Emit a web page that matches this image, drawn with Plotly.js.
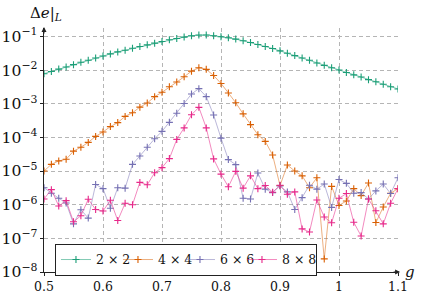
<!DOCTYPE html>
<html>
<head>
<meta charset="utf-8">
<script src="https://cdn.plot.ly/plotly-3.0.1.min.js"></script>
<style>html,body{margin:0;padding:0;background:#fff}#chart{width:443px;height:296px}</style>
</head>
<body>
<div id="chart"></div>
<script>
const g = [0.5000,0.5125,0.5250,0.5375,0.5500,0.5625,0.5750,0.5875,0.6000,0.6125,0.6250,0.6375,0.6500,0.6625,0.6750,0.6875,0.7000,0.7125,0.7250,0.7375,0.7500,0.7625,0.7750,0.7875,0.8000,0.8125,0.8250,0.8375,0.8500,0.8625,0.8750,0.8875,0.9000,0.9125,0.9250,0.9375,0.9500,0.9625,0.9750,0.9875,1.0000,1.0125,1.0250,1.0375,1.0500,1.0625,1.0750,1.0875,1.1000];

const err2x2 = [7.8e-3,9.1e-3,1.07e-2,1.23e-2,1.45e-2,1.70e-2,1.95e-2,2.29e-2,2.63e-2,3.02e-2,3.47e-2,3.89e-2,4.47e-2,5.01e-2,5.62e-2,6.31e-2,7.08e-2,7.94e-2,8.71e-2,9.55e-2,0.105,0.110,0.110,0.105,0.0977,0.0912,0.0832,0.0741,0.0661,0.0575,0.0501,0.0437,0.0372,0.0316,0.0269,0.0229,0.0195,0.0162,0.0138,0.0117,0.0100,8.5e-3,7.2e-3,6.2e-3,5.2e-3,4.5e-3,3.8e-3,3.2e-3,2.75e-3];

const err4x4 = [1.0e-5,1.58e-5,2.0e-5,2.24e-5,3.9e-5,5.1e-5,7.1e-5,1.07e-4,1.45e-4,2.09e-4,2.75e-4,4.2e-4,5.4e-4,7.9e-4,1.05e-3,1.62e-3,2.19e-3,3.2e-3,4.4e-3,6.3e-3,9.3e-3,1.17e-2,1.05e-2,6.9e-3,4.0e-3,2.09e-3,1.07e-3,5.0e-4,2.4e-4,1.20e-4,7.6e-5,3.0e-5,3.7e-6,1.51e-5,1.0e-5,7.2e-6,3.2e-6,6.3e-6,2.45e-8,3.5e-6,9.5e-7,1.29e-6,3.0e-6,1.86e-6,4.4e-6,2.95e-7,8.5e-7,2.19e-6,3.0e-6];

const err6x6 = [3.2e-6,2.19e-6,1.55e-6,1.12e-6,2.7e-7,7.1e-7,4.0e-7,4.0e-6,3.0e-6,7.8e-7,3.2e-6,3.1e-6,1.58e-5,2.8e-5,5.1e-5,9.1e-5,1.51e-4,2.8e-4,5.2e-4,1.02e-3,1.95e-3,2.8e-3,1.62e-3,4.6e-4,9.5e-5,2.19e-5,1.55e-5,1.55e-6,1.48e-6,8.7e-6,2.9e-6,2.29e-6,3.6e-6,2.4e-6,7.2e-7,1.62e-6,3.8e-6,2.9e-6,4.1e-6,8.3e-7,5.6e-6,4.3e-6,2.19e-6,2.29e-6,1.48e-6,2.57e-6,4.1e-6,2.14e-6,6.3e-6];

const err8x8 = [1.48e-6,2.8e-6,9.1e-7,1.32e-6,3.1e-7,4.7e-7,1.45e-6,7.2e-7,6.5e-7,1.35e-6,3.4e-7,1.10e-6,1.0e-6,4.6e-6,3.9e-6,8.9e-6,1.26e-5,2.34e-5,8.7e-5,1.91e-4,4.7e-4,7.8e-4,1.91e-4,2.29e-5,8.1e-6,3.4e-6,9.8e-6,3.1e-6,7.2e-6,3.0e-6,3.7e-6,2.34e-6,3.8e-6,2.04e-6,2.4e-6,1.91e-7,1.55e-7,1.38e-6,4.3e-7,2.9e-7,1.55e-6,2.14e-6,3.0e-7,1.17e-7,1.48e-6,6.6e-7,2.7e-7,1.10e-6,3.0e-6];

const seriesNames = ['2 × 2','4 × 4','6 × 6','8 × 8'];
const seriesData = [err2x2, err4x4, err6x6, err8x8];
const markerColors = ['#1b9e77','#d95f02','#7570b3','#e7298a'];
const lineColors = ['rgba(27,158,119,0.55)','rgba(217,95,2,0.5)','rgba(117,112,179,0.5)','rgba(231,41,138,0.55)'];
const xTickVals = [0.5,0.6,0.7,0.8,0.9,1.0,1.1];

const serif = 'DejaVu Serif';

const traces = seriesData.map((ys, k) => ({
  x: g, y: ys, name: seriesNames[k], type: 'scatter', mode: 'lines+markers',
  line: {color: lineColors[k], width: 1},
  marker: {symbol: 'cross-thin', size: 5, color: markerColors[k], line: {color: markerColors[k], width: 1.1}},
  legendwidth: k === 3 ? 29 : 17
}));

const axisCommon = {
  showgrid: true, gridcolor: '#b5b5b5', gridwidth: 1, griddash: '4px,3px',
  showline: true, linecolor: '#222', linewidth: 1,
  ticks: 'outside', ticklen: 3, tickcolor: '#222', tickwidth: 1,
  zeroline: false,
  tickfont: {family: serif, size: 12.5, color: '#111'}
};

const layout = {
  width: 443, height: 296,
  margin: {l: 44, r: 45, t: 28, b: 24},
  paper_bgcolor: '#fff', plot_bgcolor: '#fff',
  font: {family: serif, color: '#111'},
  showlegend: true,
  xaxis: Object.assign({}, axisCommon, {range: [0.5, 1.1], tickvals: xTickVals, ticktext: xTickVals.map(v => String(v))}),
  yaxis: Object.assign({}, axisCommon, {type: 'log', range: [-8, -0.75], dtick: 1, exponentformat: 'power'}),
  legend: {
    orientation: 'h', x: 0.031, y: -0.016, xanchor: 'left', yanchor: 'bottom',
    bgcolor: '#fff', bordercolor: '#222', borderwidth: 1,
    font: {family: serif, size: 12.5, color: '#111'},
    itemwidth: 30, tracegroupgap: 0
  },
  annotations: [
    {xref: 'paper', yref: 'paper', x: 1.006, y: 0, ax: -8, ay: 0, text: '', showarrow: true, arrowhead: 2, arrowsize: 1, arrowwidth: 1, arrowcolor: '#222'},
    {xref: 'paper', yref: 'paper', x: 0, y: 1.004, ax: 0, ay: 8, text: '', showarrow: true, arrowhead: 2, arrowsize: 1, arrowwidth: 1, arrowcolor: '#222'},
    {xref: 'paper', yref: 'paper', x: 1, y: 0, xshift: 5, xanchor: 'left', yanchor: 'middle', text: '<i>g</i>', showarrow: false, font: {family: serif, size: 15, color: '#111'}},
    {xref: 'paper', yref: 'paper', x: 0, y: 1, xshift: -16, yshift: 3, xanchor: 'left', yanchor: 'bottom', text: 'Δ<i>e</i>|<sub><i>L</i></sub>', showarrow: false, font: {family: serif, size: 15, color: '#111'}}
  ]
};

Plotly.newPlot('chart', traces, layout, {displayModeBar: false, staticPlot: true});
</script>
</body>
</html>
